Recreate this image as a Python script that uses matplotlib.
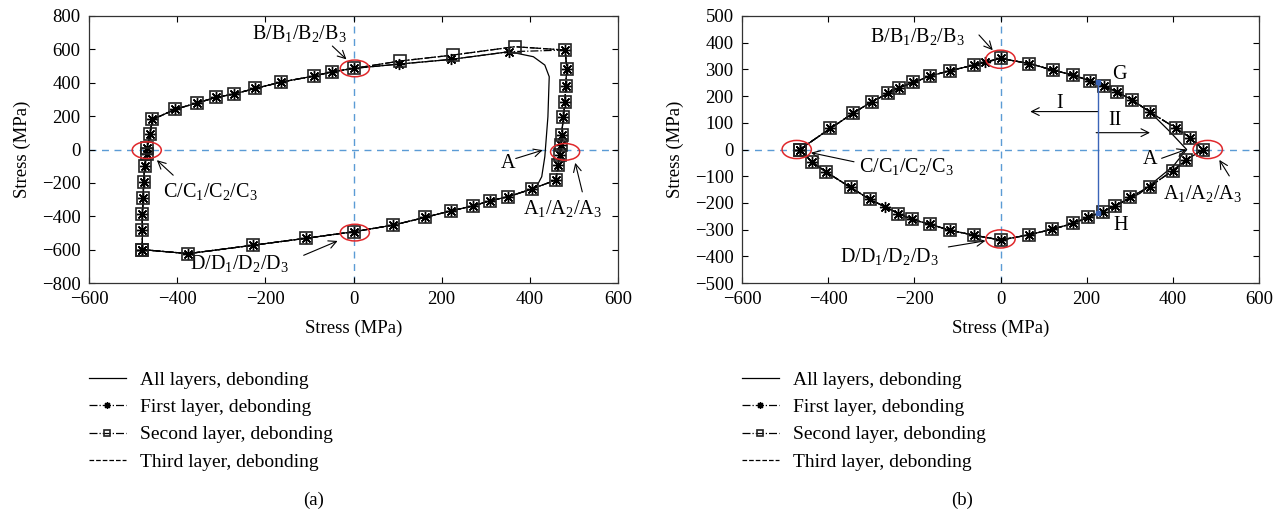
import matplotlib.pyplot as plt
from matplotlib.patches import Ellipse

plt.rcParams['font.family'] = ['Liberation Serif', 'DejaVu Serif']
plt.rcParams['mathtext.default'] = 'regular'
plt.rcParams['font.size'] = 13

# ---- panel (a) values (MPa) ----
a_left_x = [-479, -479, -479, -477, -476, -474, -469, -468, -462, -456]
a_left_y = [-600, -480, -384, -288, -194, -98, -28, 6, 92, 180]
a_top_x = [-405, -354, -312, -272, -223, -164, -90, -48, 0]
a_top_y = [240, 280, 312, 332, 366, 404, 440, 466, 486]
a_first_peak_x = [104, 222, 353]
a_first_peak_y = [512, 540, 586]
a_second_peak_x = [105, 226, 366]
a_second_peak_y = [530, 566, 616]
a_layer_right_x = [480, 484, 481, 480, 476, 472, 470, 468, 464, 459]
a_layer_right_y = [596, 482, 380, 286, 193, 87, 27, -33, -93, -183]
a_all_right_x = [408, 434, 444, 441, 434, 427, 417]
a_all_right_y = [556, 506, 436, 196, -43, -163, -213]
a_bottom_x = [404, 351, 310, 270, 222, 162, 90, 0, -108, -229, -375, -479]
a_bottom_y = [-237, -283, -307, -339, -367, -407, -453, -493, -532, -574, -624, -600]

# ---- panel (b) values ----
b_up_x = [-466, -395, -343, -299, -261, -235, -202, -164, -118, -62]
b_up_y = [0, 79, 135, 179, 210, 232, 251, 275, 295, 316]
b_top_x = [0, 67, 122, 168, 208, 241, 270, 306]
b_top_y = [341, 322, 297, 279, 257, 237, 216, 185]
b_layer_right_x = [348, 407, 441, 470, 431, 400, 346, 301]
b_layer_right_y = [139, 80, 44, 0, -39, -79, -139, -179]
b_all_right_x = [346, 393, 432, 401, 324]
b_all_right_y = [142, 67, 0, -62, -164]
b_low_x = [266, 237, 204, 168, 119, 65, 0, -62, -118, -164, -205, -237]
b_low_y = [-212, -233, -254, -277, -299, -320, -339, -321, -302, -280, -262, -240]
b_low_end_x = [-304, -348, -405, -438, -466]
b_low_end_y = [-186, -142, -84, -46, 0]
b_first_extra_top = (-35, 329)
b_first_extra_low = (-267, -215)

labels = ['All layers, debonding', 'First layer, debonding',
          'Second layer, debonding', 'Third layer, debonding']

# assemble series
a_all_x = a_left_x + a_top_x + a_first_peak_x + a_all_right_x + a_bottom_x
a_all_y = a_left_y + a_top_y + a_first_peak_y + a_all_right_y + a_bottom_y
a_first_x = a_left_x + a_top_x + a_first_peak_x + a_layer_right_x + a_bottom_x
a_first_y = a_left_y + a_top_y + a_first_peak_y + a_layer_right_y + a_bottom_y
a_second_x = a_left_x + a_top_x + a_second_peak_x + a_layer_right_x + a_bottom_x
a_second_y = a_left_y + a_top_y + a_second_peak_y + a_layer_right_y + a_bottom_y

b_all_x = b_up_x + b_top_x + b_all_right_x + b_low_x + b_low_end_x
b_all_y = b_up_y + b_top_y + b_all_right_y + b_low_y + b_low_end_y
b_first_x = (b_up_x + [b_first_extra_top[0]] + b_top_x + b_layer_right_x + b_low_x
             + [b_first_extra_low[0]] + b_low_end_x)
b_first_y = (b_up_y + [b_first_extra_top[1]] + b_top_y + b_layer_right_y + b_low_y
             + [b_first_extra_low[1]] + b_low_end_y)
b_second_x = b_up_x + b_top_x + b_layer_right_x + b_low_x + b_low_end_x
b_second_y = b_up_y + b_top_y + b_layer_right_y + b_low_y + b_low_end_y

fig = plt.figure(figsize=(12.84, 5.12), dpi=100)
ax1 = fig.add_axes([89 / 1284, 1 - 283 / 512, 529 / 1284, 267 / 512])
ax2 = fig.add_axes([742 / 1284, 1 - 283 / 512, 517 / 1284, 267 / 512])

guide = '#5b9bd5'
red = '#e0282b'


def draw(ax, ax_data, ylim, yticks, tag):
    (ax_x, ax_y), (f_x, f_y), (s_x, s_y) = ax_data
    ax.axhline(0, color=guide, ls=(0, (5, 4)), lw=1.0, zorder=1)
    ax.axvline(0, color=guide, ls=(0, (5, 4)), lw=1.0, zorder=1)
    h = []
    h += ax.plot(ax_x, ax_y, '-', color='k', lw=0.9, zorder=3)
    h += ax.plot(f_x, f_y, '-.', color='k', lw=0.9, marker=(8, 2, 0),
                 ms=8, mew=1.0, zorder=4)
    h += ax.plot(s_x, s_y, '-.', color='k', lw=0.9, marker='s', ms=8,
                 mfc='none', mec='#222222', mew=1.2, zorder=4)
    h += ax.plot(s_x, s_y, '--', color='k', lw=0.9, zorder=3)
    ax.set_xlim(-600, 600)
    ax.set_ylim(ylim)
    ax.set_xticks(range(-600, 601, 200))
    ax.set_yticks(yticks)
    ax.tick_params(direction='in', top=True, right=True, length=4,
                   width=0.8, labelsize=13.5, pad=6)
    for s in ax.spines.values():
        s.set_color('#333333')
        s.set_linewidth(0.9)
    ax.set_xlabel('Stress (MPa)', fontsize=13.5, labelpad=8)
    ax.set_ylabel('Stress (MPa)', fontsize=13.5, labelpad=8)
    ax.legend(h, labels, loc='upper left', bbox_to_anchor=(0, -0.33),
              frameon=False, borderpad=0, borderaxespad=0, fontsize=14,
              handlelength=1.9, handletextpad=0.7, labelspacing=0.5,
              markerscale=0.6)
    ax.text(0.425, -0.815, tag, transform=ax.transAxes, ha='center',
            va='center', fontsize=13.5)


draw(ax1, [(a_all_x, a_all_y), (a_first_x, a_first_y), (a_second_x, a_second_y)],
     (-800, 800), range(-800, 801, 200), '(a)')
draw(ax2, [(b_all_x, b_all_y), (b_first_x, b_first_y), (b_second_x, b_second_y)],
     (-500, 500), range(-500, 501, 100), '(b)')

arrow = dict(arrowstyle='->', lw=0.8, color='k', shrinkA=0, shrinkB=0,
             mutation_scale=14)
fs = 14.5

# annotations, panel (a)
for cx, cy in [(3, 486), (-469, -4), (3, -498), (480, -14)]:
    ax1.add_patch(Ellipse((cx, cy), 66, 100, fill=False, ec=red, lw=1.1, zorder=6))
ax1.text(-122, 696, 'B/B$_1$/B$_2$/B$_3$', ha='center', va='center', fontsize=fs)
ax1.annotate('', xy=(-16, 540), xytext=(-48, 620), arrowprops=arrow)
ax1.text(-432, -254, 'C/C$_1$/C$_2$/C$_3$', ha='left', va='center', fontsize=fs)
ax1.annotate('', xy=(-446, -64), xytext=(-409, -154), arrowprops=arrow)
ax1.text(-372, -684, 'D/D$_1$/D$_2$/D$_3$', ha='left', va='center', fontsize=fs)
ax1.annotate('', xy=(-36, -548), xytext=(-113, -634), arrowprops=arrow)
ax1.text(350, -84, 'A', ha='center', va='center', fontsize=fs)
ax1.annotate('', xy=(429, -4), xytext=(368, -54), arrowprops=arrow)
ax1.text(385, -354, 'A$_1$/A$_2$/A$_3$', ha='left', va='center', fontsize=fs)
ax1.annotate('', xy=(503, -80), xytext=(519, -254), arrowprops=arrow)

# annotations, panel (b)
for cx, cy in [(0, 338), (-473, 0), (0, -335), (481, 0)]:
    ax2.add_patch(Ellipse((cx, cy), 68, 68, fill=False, ec=red, lw=1.1, zorder=6))
ax2.plot([226, 226], [254, -237], color='#3b64b8', lw=1.0, marker='s', ms=2.5, zorder=5)
ax2.text(277, 282, 'G', ha='center', va='center', fontsize=fs)
ax2.text(279, -284, 'H', ha='center', va='center', fontsize=fs)
ax2.annotate('', xy=(69, 142), xytext=(226, 142), arrowprops=arrow)
ax2.text(138, 172, 'I', ha='center', va='center', fontsize=fs)
ax2.annotate('', xy=(347, 63), xytext=(222, 63), arrowprops=arrow)
ax2.text(266, 108, 'II', ha='center', va='center', fontsize=fs)
ax2.text(-192, 422, 'B/B$_1$/B$_2$/B$_3$', ha='center', va='center', fontsize=fs)
ax2.annotate('', xy=(-18, 372), xytext=(-50, 429), arrowprops=arrow)
ax2.text(-328, -62, 'C/C$_1$/C$_2$/C$_3$', ha='left', va='center', fontsize=fs)
ax2.annotate('', xy=(-440, -12), xytext=(-340, -46), arrowprops=arrow)
ax2.text(-373, -400, 'D/D$_1$/D$_2$/D$_3$', ha='left', va='center', fontsize=fs)
ax2.annotate('', xy=(-35, -342), xytext=(-121, -365), arrowprops=arrow)
ax2.text(347, -39, 'A', ha='center', va='center', fontsize=fs)
ax2.annotate('', xy=(431, 0), xytext=(374, -33), arrowprops=arrow)
ax2.text(378, -164, 'A$_1$/A$_2$/A$_3$', ha='left', va='center', fontsize=fs)
ax2.annotate('', xy=(508, -39), xytext=(531, -99), arrowprops=arrow)

fig.savefig('out.png', dpi=100)
